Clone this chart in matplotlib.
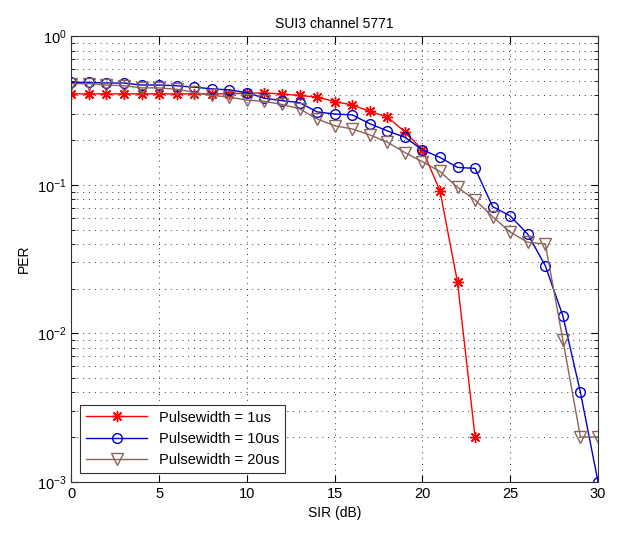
import matplotlib.pyplot as plt
import numpy as np

plt.rcParams['font.family'] = ['Liberation Sans', 'DejaVu Sans']

# SIR values (dB) and PER per pulse width
sir_1us = np.arange(0, 24)
per_1us = [0.41, 0.41, 0.41, 0.41, 0.41, 0.41, 0.41, 0.41, 0.41, 0.41,
           0.415, 0.415, 0.41, 0.40, 0.39, 0.364, 0.345, 0.313, 0.286,
           0.228, 0.172, 0.091, 0.022, 0.002]

sir_10us = np.arange(0, 31)
per_10us = [0.49, 0.49, 0.485, 0.485, 0.47, 0.47, 0.465, 0.455, 0.443,
            0.436, 0.418, 0.383, 0.369, 0.358, 0.31, 0.30, 0.296, 0.258,
            0.231, 0.209, 0.172, 0.153, 0.131, 0.129, 0.0713, 0.0617,
            0.0465, 0.0285, 0.0131, 0.004, 0.001]

sir_20us = np.arange(0, 31)
per_20us = [0.48, 0.48, 0.47, 0.465, 0.45, 0.45, 0.44, 0.42, 0.40, 0.39,
            0.372, 0.365, 0.348, 0.325, 0.278, 0.25, 0.238, 0.217, 0.194,
            0.165, 0.143, 0.123, 0.096, 0.079, 0.061, 0.048, 0.041, 0.040,
            0.009, 0.002, 0.002]

labels = ['Pulsewidth = 1us', 'Pulsewidth = 10us', 'Pulsewidth = 20us']

fig = plt.figure(figsize=(6.2, 5.35), dpi=100)
ax = fig.add_axes([0.115, 0.0996, 0.8495, 0.8324])

# MATLAB-style asterisk: 8 spokes
ax.semilogy(sir_1us, per_1us, color='red', marker=(8, 2, 0), markersize=8,
            markeredgewidth=1, linewidth=1, label=labels[0])
ax.semilogy(sir_10us, per_10us, color='#0000cc', marker='o', markersize=7,
            markerfacecolor='none', linewidth=1, label=labels[1])
ax.semilogy(sir_20us, per_20us, color='#8a6458', marker='v', markersize=9,
            markerfacecolor='none', linewidth=1, label=labels[2])

ax.set_xlim(0, 30)
ax.set_ylim(1e-3, 1)
ax.set_xticks(np.arange(0, 31, 5))
grid_style = dict(linestyle=(0, (1, 5)), color='black', linewidth=0.7, alpha=0.8)
ax.grid(True, which='major', **grid_style)
ax.grid(True, which='minor', axis='y', **grid_style)
ax.tick_params(which='both', direction='in', top=True, right=True, labelsize=10.5)
ax.tick_params(which='major', length=5)
ax.tick_params(which='minor', length=3)
for s in ax.spines.values():
    s.set_color('#333333')

ax.set_title('SUI3 channel 5771', fontsize=10)
ax.set_xlabel('SIR (dB)', fontsize=10)
ax.set_ylabel('PER', fontsize=10)

leg = ax.legend(loc='lower left', fontsize=10.5, fancybox=False, framealpha=1,
                edgecolor='#333333', handlelength=4.2, borderaxespad=0.6)
leg.get_frame().set_linewidth(0.8)

fig.savefig('out.png', dpi=100)
